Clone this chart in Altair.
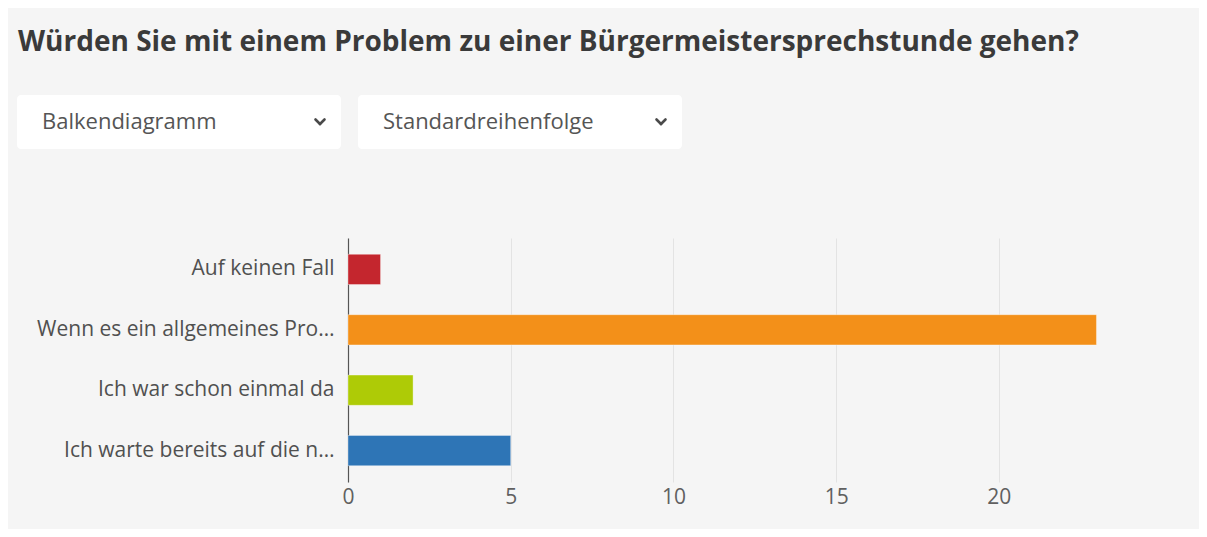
import altair as alt
import pandas as pd

# ---- data ----
categories = [
    "Auf keinen Fall",
    "Wenn es ein allgemeines Pro…",
    "Ich war schon einmal da",
    "Ich warte bereits auf die n…",
]
counts = [1, 23, 2, 5]
colors = ["#c4262e", "#f39019", "#aecb06", "#2e75b6"]
x_ticks = [0, 5, 10, 15, 20]

title_text = "Würden Sie mit einem Problem zu einer Bürgermeistersprechstunde gehen?"
dropdown_labels = ["Balkendiagramm", "Standardreihenfolge"]

# ---- layout (pixels) ----
PLOT_LEFT = 340   # padding left (page x = 8 + 340 = 348)
PLOT_TOP = 230    # padding top (page y = 8 + 230 = 238)
PLOT_W = 781
PLOT_H = 244
TOTAL_W = 1191
TOTAL_H = 521

df = pd.DataFrame({"cat": categories, "n": counts, "color": colors})

bars = alt.Chart(df).mark_bar(
    stroke="white", strokeOpacity=0.35, strokeWidth=1
).encode(
    y=alt.Y(
        "cat:N",
        sort=categories,
        title=None,
        scale=alt.Scale(paddingInner=0.5, paddingOuter=0.27),
        axis=alt.Axis(
            labelFont="Open Sans",
            labelFontSize=21,
            labelColor="#505050",
            labelPadding=14,
            ticks=False,
            domain=True,
            domainColor="#555555",
            domainWidth=1.2,
            grid=False,
            labelLimit=400,
        ),
    ),
    x=alt.X(
        "n:Q",
        title=None,
        scale=alt.Scale(domain=[0, 24], nice=False),
        axis=alt.Axis(
            values=x_ticks,
            labelFont="Open Sans",
            labelFontSize=21,
            labelColor="#606060",
            labelPadding=4,
            labelFlush=False,
            ticks=False,
            domain=False,
            grid=True,
            gridColor="#e3e3e3",
            gridWidth=1,
        ),
    ),
    color=alt.Color("color:N", scale=None, legend=None),
)

# ---- decorations: title and dropdown boxes ----
title_df = pd.DataFrame({"t": [title_text]})
title = alt.Chart(title_df).mark_text(
    font="Open Sans", fontSize=28, fontWeight="bold", color="#3a3a3a",
    align="left", baseline="alphabetic",
).encode(
    x=alt.value(18 - 8 - PLOT_LEFT),
    y=alt.value(51 - 8 - PLOT_TOP),
    text="t:N",
)

box_df = pd.DataFrame({
    "label": dropdown_labels,
    "x0": [17, 358],
    "x1": [341, 682],
})

boxes = []
for i, lab in enumerate(dropdown_labels):
    x0 = box_df.x0[i] - 8 - PLOT_LEFT
    x1 = box_df.x1[i] - 8 - PLOT_LEFT
    sub = box_df.iloc[[i]]
    rect = alt.Chart(sub).mark_rect(fill="white", cornerRadius=4).encode(
        x=alt.value(x0), x2=alt.value(x1),
        y=alt.value(95 - 8 - PLOT_TOP), y2=alt.value(149 - 8 - PLOT_TOP),
    )
    txt = alt.Chart(sub).mark_text(
        font="Open Sans", fontSize=22, color="#555555", align="left", baseline="middle",
    ).encode(
        x=alt.value(x0 + 25), y=alt.value(122 - 8 - PLOT_TOP), text="label:N",
    )
    cx = x1 - 21
    cy = 122 - 8 - PLOT_TOP
    chev_l = alt.Chart(sub).mark_rule(
        color="#4a4a4a", strokeWidth=2.6, strokeCap="round"
    ).encode(
        x=alt.value(cx - 4.5), y=alt.value(cy - 2.5),
        x2=alt.value(cx), y2=alt.value(cy + 2),
    )
    chev_r = alt.Chart(sub).mark_rule(
        color="#4a4a4a", strokeWidth=2.6, strokeCap="round"
    ).encode(
        x=alt.value(cx), y=alt.value(cy + 2),
        x2=alt.value(cx + 4.5), y2=alt.value(cy - 2.5),
    )
    boxes += [rect, txt, chev_l, chev_r]

chart = alt.layer(bars, title, *boxes).properties(
    width=PLOT_W,
    height=PLOT_H,
    padding={"left": PLOT_LEFT, "top": PLOT_TOP,
             "right": TOTAL_W - PLOT_LEFT - PLOT_W,
             "bottom": TOTAL_H - PLOT_TOP - PLOT_H},
    autosize=alt.AutoSizeParams(type="none"),
    background="#f5f5f5",
).configure_view(stroke=None)

chart.save("out.html", embed_options={"renderer": "svg", "actions": False})
